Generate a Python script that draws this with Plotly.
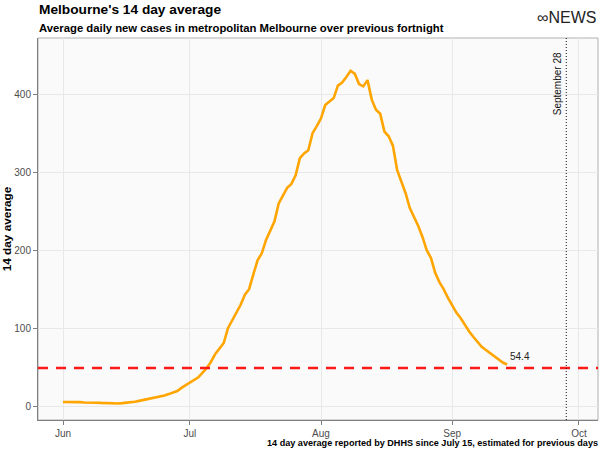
import pandas as pd
import plotly.graph_objects as go

start_date = "2020-06-01"
avg_values = [
    6.4, 6.5, 6.6, 6.8, 6.2, 5.8, 6.0, 5.8, 5.5, 5.2,
    4.8, 4.4, 4.2, 4.5, 4.9, 5.3, 5.9, 6.7, 7.8, 8.9,
    9.7, 10.6, 11.8, 13.2, 14.8, 16.5, 18.2, 20.5, 24.5, 28,
    32, 35, 38, 44, 50, 58, 68, 75, 82, 101,
    111, 122, 131, 144, 151, 170, 188, 197, 214, 226,
    238, 261, 271, 281, 286, 297, 319, 325, 329, 351,
    360, 370, 387, 391, 396, 412, 416, 423, 431, 427,
    414, 411, 419, 394, 381, 376, 353, 347, 335, 304,
    289, 274, 255, 244, 232, 218, 201, 191, 172, 160,
    151, 140, 130, 121, 114, 105, 97, 90, 84, 77,
    73, 69, 65, 61, 57, 54.4,
]
dates = pd.date_range(start_date, periods=len(avg_values), freq="D")

threshold = 50
marker_date = "2020-09-28"
marker_label = "September 28"
end_label = "54.4"
tick_dates = ["2020-06-01", "2020-07-01", "2020-08-01", "2020-09-01", "2020-10-01"]
tick_labels = ["Jun", "Jul", "Aug", "Sep", "Oct"]
y_ticks = [0, 100, 200, 300, 400]

title = "Melbourne's 14 day average"
subtitle = "Average daily new cases in metropolitan Melbourne over previous fortnight"
caption = "14 day average reported by DHHS since July 15, estimated for previous days"
y_title = "14 day average"

FONT = "Liberation Sans, Arial, sans-serif"

fig = go.Figure()
fig.add_trace(go.Scatter(
    x=dates, y=avg_values, mode="lines",
    line=dict(color="#FFA500", width=2.6), hoverinfo="x+y", showlegend=False,
))

fig.add_hline(y=threshold, line=dict(color="#FF1A1A", width=2.6, dash="10px,8px"), layer="above")
fig.add_vline(x=marker_date, line=dict(color="#111111", width=1, dash="1px,2px"), layer="above")

fig.add_annotation(x=marker_date, y=1, yref="paper", yanchor="top", xanchor="right",
                   xshift=-1, yshift=-12, text=marker_label, textangle=-90, showarrow=False,
                   font=dict(family=FONT, size=10, color="#111111"))
fig.add_annotation(x=dates[-1], y=avg_values[-1], xanchor="left", yanchor="bottom",
                   xshift=1, yshift=1, text=end_label, showarrow=False,
                   font=dict(family=FONT, size=10, color="#222222"))

# titles
fig.add_annotation(x=0, xref="paper", y=1, yref="paper", xanchor="left", yanchor="bottom",
                   xshift=-1, yshift=19, text="<b>" + title + "</b>", showarrow=False,
                   font=dict(family=FONT, size=13.7, color="#000000"))
fig.add_annotation(x=0, xref="paper", y=1, yref="paper", xanchor="left", yanchor="bottom",
                   xshift=-1, yshift=2, text="<b>" + subtitle + "</b>", showarrow=False,
                   font=dict(family=FONT, size=11.3, color="#000000"))
fig.add_annotation(x=1, xref="paper", y=1, yref="paper", xanchor="right", yanchor="bottom",
                   xshift=0, yshift=10, text="\u221eNEWS", showarrow=False,
                   font=dict(family=FONT, size=16, color="#222222"))
fig.add_annotation(x=1, xref="paper", y=0, yref="paper", xanchor="right", yanchor="top",
                   xshift=2, yshift=-16, text="<b>" + caption + "</b>", showarrow=False,
                   font=dict(family=FONT, size=9.1, color="#000000"))

# panel border
fig.add_shape(type="rect", xref="paper", yref="paper", x0=0, x1=1, y0=0, y1=1,
              line=dict(color="#b0b0b0", width=1), layer="below")

fig.update_layout(
    width=605, height=453,
    margin=dict(l=38, r=7, t=38, b=33),
    paper_bgcolor="#ffffff", plot_bgcolor="#fafafa",
    font=dict(family=FONT),
    showlegend=False,
)
fig.update_xaxes(
    range=["2020-05-26 02:00", "2020-10-05 12:00"],
    tickvals=tick_dates, ticktext=tick_labels,
    showgrid=True, gridcolor="#e8e8e8", gridwidth=1,
    showline=True, linecolor="#7f7f7f", linewidth=1,
    ticks="outside", ticklen=4, tickcolor="#7f7f7f",
    tickfont=dict(family=FONT, size=10, color="#4d4d4d"),
    zeroline=False, automargin=False,
)
fig.update_yaxes(
    range=[-16.7, 473],
    tickvals=y_ticks,
    showgrid=True, gridcolor="#e8e8e8", gridwidth=1,
    showline=True, linecolor="#7f7f7f", linewidth=1,
    ticks="outside", ticklen=4, tickcolor="#7f7f7f",
    tickfont=dict(family=FONT, size=10, color="#4d4d4d"),
    title=dict(text="<b>" + y_title + "</b>", font=dict(family=FONT, size=11.8, color="#000000"), standoff=4),
    zeroline=False, automargin=False,
)

fig.write_html("out.html")
